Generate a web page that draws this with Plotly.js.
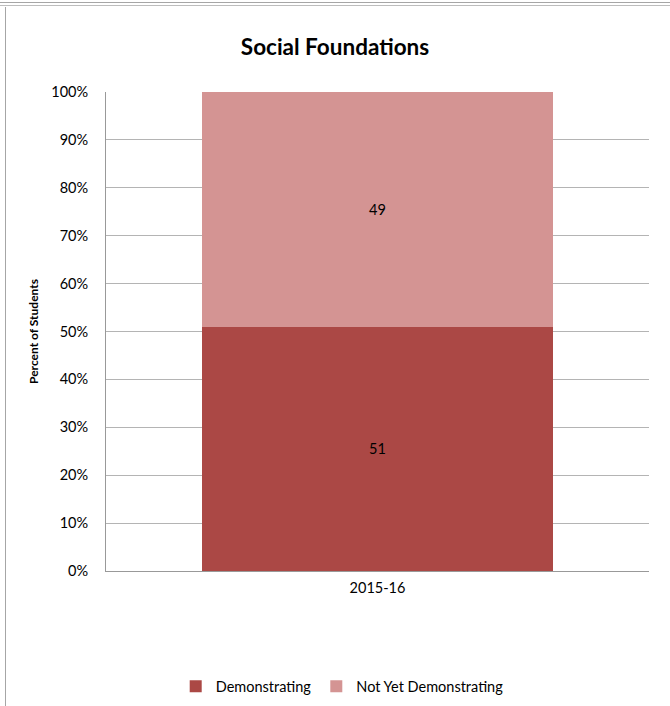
<!DOCTYPE html>
<html>
<head>
<meta charset="utf-8">
<script src="https://cdn.plot.ly/plotly-3.0.1.min.js"></script>
<style>
  html, body { margin: 0; padding: 0; background: #fff; }
  #wrap { position: relative; width: 670px; height: 706px; overflow: hidden; }
  #chart { position: absolute; left: 0; top: 0; width: 670px; height: 706px; }
  .bl { position: absolute; background: #a6a6a6; pointer-events: none; }
</style>
</head>
<body>
<div id="wrap">
  <div id="chart"></div>
  <div class="bl" style="left:0;top:2px;width:670px;height:1px;"></div>
  <div class="bl" style="left:0;top:5px;width:670px;height:1px;background:#bdbdbd;"></div>
  <div class="bl" style="left:5px;top:7px;width:1px;height:699px;"></div>
</div>
<script>
const categories = ["2015-16"];
const demonstrating = [51];
const notYetDemonstrating = [49];
const seriesNames = ["Demonstrating", "Not Yet Demonstrating"];
const yTickVals = [0, 10, 20, 30, 40, 50, 60, 70, 80, 90, 100];
const yTickText = yTickVals.map(v => v + "%");

const font = "Lato, 'Open Sans', sans-serif";

const traces = [
  {
    type: "bar", name: seriesNames[0], x: categories, y: demonstrating,
    marker: { color: "#AB4845" },
    text: demonstrating.map(String), textposition: "inside", insidetextanchor: "middle",
    textfont: { color: "#000", size: 14.5, family: font },
    hoverinfo: "none"
  },
  {
    type: "bar", name: seriesNames[1], x: categories, y: notYetDemonstrating,
    marker: { color: "#D49493" },
    text: notYetDemonstrating.map(String), textposition: "inside", insidetextanchor: "middle",
    textfont: { color: "#000", size: 14.5, family: font },
    hoverinfo: "none"
  }
];

const layout = {
  width: 670, height: 706,
  margin: { l: 106, r: 21, t: 92, b: 135, autoexpand: false },
  paper_bgcolor: "rgba(0,0,0,0)", plot_bgcolor: "#fff",
  barmode: "stack", bargap: 0.355,
  font: { family: font, color: "#000", size: 14.5 },
  title: {
    text: "<b>Social Foundations</b>",
    font: { family: font, size: 22.5, color: "#000" },
    x: 0.5, xanchor: "center", y: 0.933, yanchor: "middle"
  },
  xaxis: {
    type: "category", automargin: false,
    showline: true, linecolor: "#999", linewidth: 1,
    ticks: "", tickfont: { size: 14.5, family: font, color: "#000" },
    ticklabelstandoff: 4,
    showgrid: false, fixedrange: true
  },
  yaxis: {
    range: [0, 100], tickmode: "array", tickvals: yTickVals, ticktext: yTickText,
    automargin: false,
    showgrid: true, gridcolor: "#b4b4b4", gridwidth: 1,
    showline: true, linecolor: "#999", linewidth: 1,
    ticks: "", ticklabelstandoff: 14,
    tickfont: { size: 14.5, family: font, color: "#000" },
    zeroline: false,
    title: { text: "<b>Percent of Students</b>", font: { size: 12, family: font, color: "#000" }, standoff: 10 },
    fixedrange: true
  },
  showlegend: true,
  legend: {
    orientation: "h", x: 0.435, xanchor: "center",
    yref: "container", y: 0.028, yanchor: "middle",
    font: { size: 14.5, family: font, color: "#000" },
    traceorder: "normal", itemwidth: 30
  }
};

Plotly.newPlot("chart", traces, layout, { displayModeBar: false, staticPlot: true });
</script>
</body>
</html>
